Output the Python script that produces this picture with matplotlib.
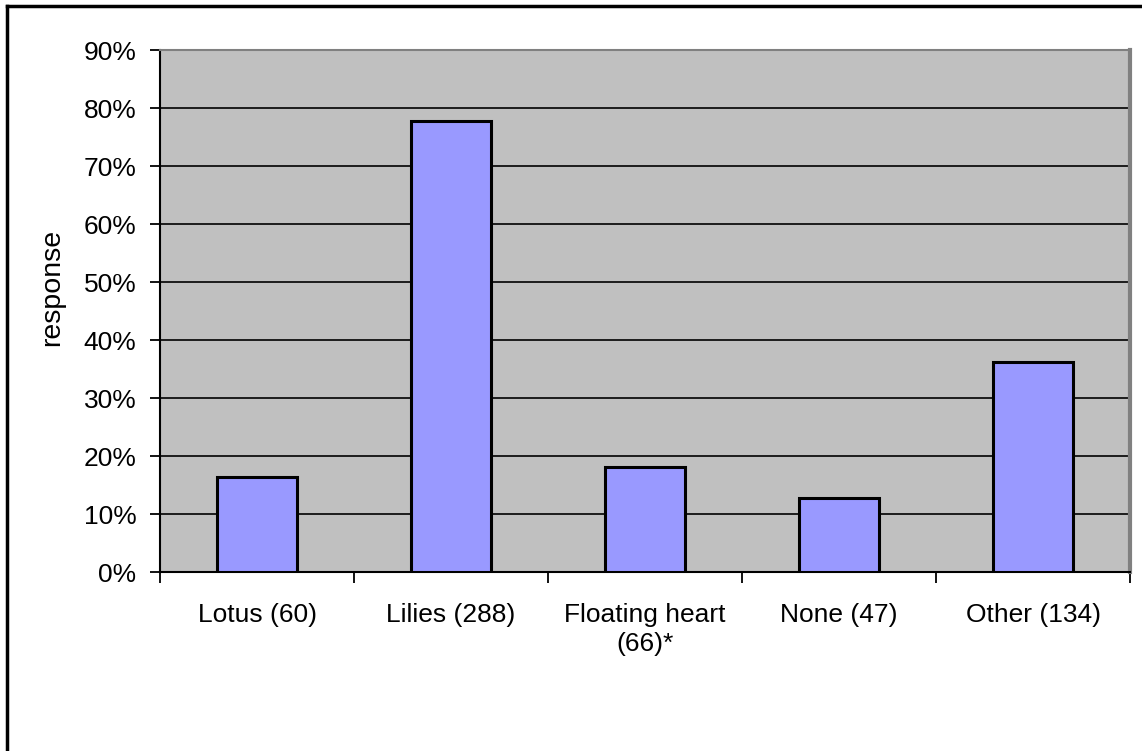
import matplotlib
matplotlib.use("Agg")
import matplotlib.pyplot as plt
from matplotlib.lines import Line2D
from matplotlib.ticker import PercentFormatter, FixedLocator

categories = ["Lotus (60)", "Lilies (288)", "Floating heart\n(66)*", "None (47)", "Other (134)"]
values = [16.3, 77.8, 18.1, 12.8, 36.2]
yticks = [0, 10, 20, 30, 40, 50, 60, 70, 80, 90]

plt.rcParams['font.family'] = ['Liberation Sans', 'DejaVu Sans']

fig = plt.figure(figsize=(11.42, 7.51), dpi=100)
ax = fig.add_axes([160/1142, 1 - 572/751, 970/1142, 522/751])
ax.set_facecolor("#C0C0C0")

x = list(range(len(categories)))
ax.bar(x, values, width=0.41, color="#9999FF", edgecolor="black", linewidth=2.2, zorder=3)

ax.set_xlim(-0.5, len(categories) - 0.5)
ax.set_ylim(0, 90)
ax.set_yticks(yticks)
ax.yaxis.set_major_formatter(PercentFormatter(decimals=0))
ax.yaxis.grid(True, color="black", linewidth=1.2, zorder=1)
ax.set_axisbelow(True)

ax.set_xticks(x)
ax.set_xticklabels(categories, fontsize=19, linespacing=1.3)
ax.xaxis.set_minor_locator(FixedLocator([i - 0.5 for i in range(len(categories) + 1)]))
ax.tick_params(axis='x', which='major', length=0, pad=22)
ax.tick_params(axis='x', which='minor', length=8, width=1.3, direction='out', color='black')
ax.tick_params(axis='y', length=7, width=1.3, direction='out', labelsize=19, pad=10)

ax.set_ylabel("response", fontsize=20.5)
ax.yaxis.set_label_coords(-0.098, 0.546)

for s in ['left', 'bottom']:
    ax.spines[s].set_color("black")
    ax.spines[s].set_linewidth(1.5)
ax.spines['top'].set_color("#808080")
ax.spines['top'].set_linewidth(1.5)
ax.spines['right'].set_color("#808080")
ax.spines['right'].set_linewidth(3)

# figure border (top and left visible)
fig.add_artist(Line2D([7/1142, 1], [1 - 6/751, 1 - 6/751], transform=fig.transFigure, color="black", linewidth=2.5))
fig.add_artist(Line2D([7/1142, 7/1142], [0, 1 - 6/751], transform=fig.transFigure, color="black", linewidth=2.5))

fig.savefig("out.png", dpi=100, facecolor="white")
